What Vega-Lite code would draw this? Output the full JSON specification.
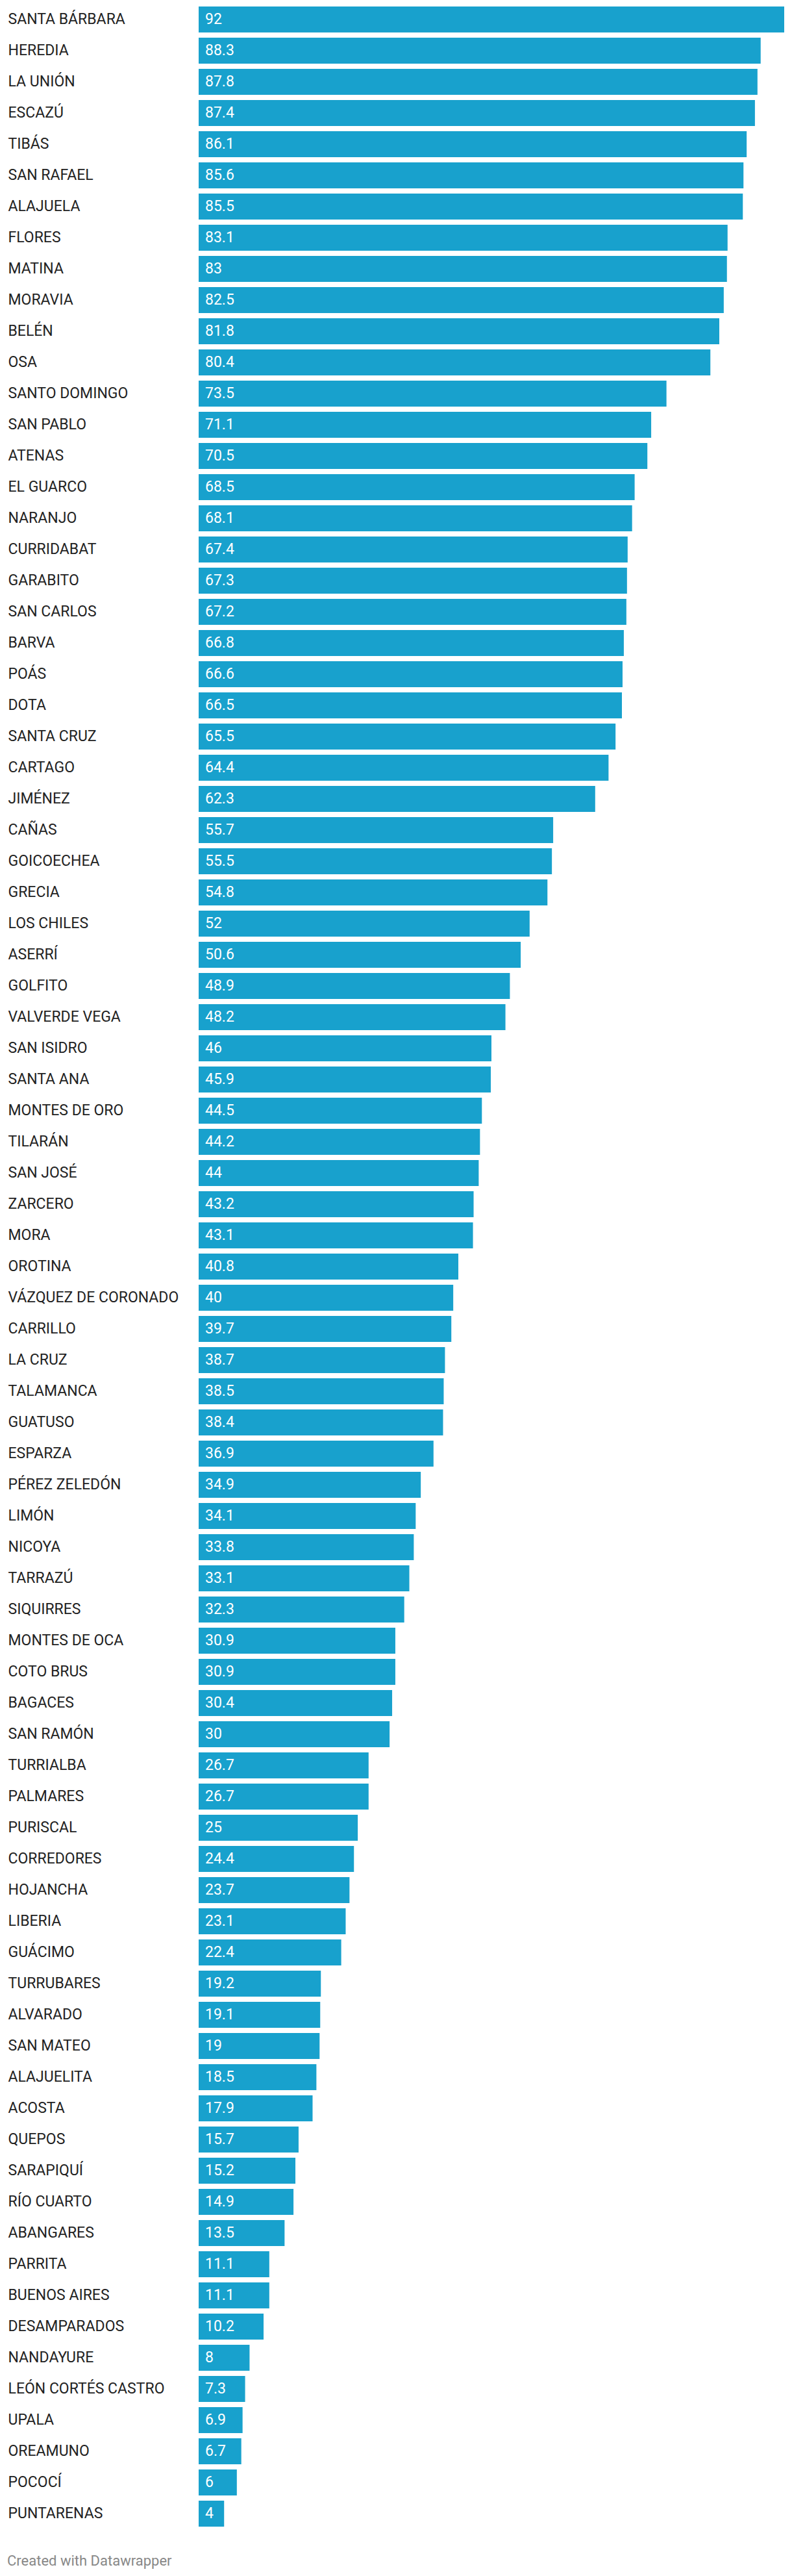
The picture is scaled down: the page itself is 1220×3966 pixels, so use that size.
{
  "$schema": "https://vega.github.io/schema/vega-lite/v6.json",
  "autosize": {"type": "none"},
  "width": 902,
  "height": 3888,
  "padding": {"left": 306, "top": 6, "right": 12, "bottom": 72},
  "background": "white",
  "config": {"view": {"stroke": null}, "font": "Roboto"},
  "title": {
    "text": "Created with Datawrapper",
    "orient": "bottom",
    "anchor": "start",
    "frame": "group",
    "baseline": "alphabetic",
    "offset": 56,
    "dx": -295,
    "font": "Roboto",
    "fontSize": 22,
    "fontWeight": "normal",
    "color": "#888888"
  },
  "data": {
    "values": [
      {"name": "SANTA BÁRBARA", "value": 92},
      {"name": "HEREDIA", "value": 88.3},
      {"name": "LA UNIÓN", "value": 87.8},
      {"name": "ESCAZÚ", "value": 87.4},
      {"name": "TIBÁS", "value": 86.1},
      {"name": "SAN RAFAEL", "value": 85.6},
      {"name": "ALAJUELA", "value": 85.5},
      {"name": "FLORES", "value": 83.1},
      {"name": "MATINA", "value": 83},
      {"name": "MORAVIA", "value": 82.5},
      {"name": "BELÉN", "value": 81.8},
      {"name": "OSA", "value": 80.4},
      {"name": "SANTO DOMINGO", "value": 73.5},
      {"name": "SAN PABLO", "value": 71.1},
      {"name": "ATENAS", "value": 70.5},
      {"name": "EL GUARCO", "value": 68.5},
      {"name": "NARANJO", "value": 68.1},
      {"name": "CURRIDABAT", "value": 67.4},
      {"name": "GARABITO", "value": 67.3},
      {"name": "SAN CARLOS", "value": 67.2},
      {"name": "BARVA", "value": 66.8},
      {"name": "POÁS", "value": 66.6},
      {"name": "DOTA", "value": 66.5},
      {"name": "SANTA CRUZ", "value": 65.5},
      {"name": "CARTAGO", "value": 64.4},
      {"name": "JIMÉNEZ", "value": 62.3},
      {"name": "CAÑAS", "value": 55.7},
      {"name": "GOICOECHEA", "value": 55.5},
      {"name": "GRECIA", "value": 54.8},
      {"name": "LOS CHILES", "value": 52},
      {"name": "ASERRÍ", "value": 50.6},
      {"name": "GOLFITO", "value": 48.9},
      {"name": "VALVERDE VEGA", "value": 48.2},
      {"name": "SAN ISIDRO", "value": 46},
      {"name": "SANTA ANA", "value": 45.9},
      {"name": "MONTES DE ORO", "value": 44.5},
      {"name": "TILARÁN", "value": 44.2},
      {"name": "SAN JOSÉ", "value": 44},
      {"name": "ZARCERO", "value": 43.2},
      {"name": "MORA", "value": 43.1},
      {"name": "OROTINA", "value": 40.8},
      {"name": "VÁZQUEZ DE CORONADO", "value": 40},
      {"name": "CARRILLO", "value": 39.7},
      {"name": "LA CRUZ", "value": 38.7},
      {"name": "TALAMANCA", "value": 38.5},
      {"name": "GUATUSO", "value": 38.4},
      {"name": "ESPARZA", "value": 36.9},
      {"name": "PÉREZ ZELEDÓN", "value": 34.9},
      {"name": "LIMÓN", "value": 34.1},
      {"name": "NICOYA", "value": 33.8},
      {"name": "TARRAZÚ", "value": 33.1},
      {"name": "SIQUIRRES", "value": 32.3},
      {"name": "MONTES DE OCA", "value": 30.9},
      {"name": "COTO BRUS", "value": 30.9},
      {"name": "BAGACES", "value": 30.4},
      {"name": "SAN RAMÓN", "value": 30},
      {"name": "TURRIALBA", "value": 26.7},
      {"name": "PALMARES", "value": 26.7},
      {"name": "PURISCAL", "value": 25},
      {"name": "CORREDORES", "value": 24.4},
      {"name": "HOJANCHA", "value": 23.7},
      {"name": "LIBERIA", "value": 23.1},
      {"name": "GUÁCIMO", "value": 22.4},
      {"name": "TURRUBARES", "value": 19.2},
      {"name": "ALVARADO", "value": 19.1},
      {"name": "SAN MATEO", "value": 19},
      {"name": "ALAJUELITA", "value": 18.5},
      {"name": "ACOSTA", "value": 17.9},
      {"name": "QUEPOS", "value": 15.7},
      {"name": "SARAPIQUÍ", "value": 15.2},
      {"name": "RÍO CUARTO", "value": 14.9},
      {"name": "ABANGARES", "value": 13.5},
      {"name": "PARRITA", "value": 11.1},
      {"name": "BUENOS AIRES", "value": 11.1},
      {"name": "DESAMPARADOS", "value": 10.2},
      {"name": "NANDAYURE", "value": 8},
      {"name": "LEÓN CORTÉS CASTRO", "value": 7.3},
      {"name": "UPALA", "value": 6.9},
      {"name": "OREAMUNO", "value": 6.7},
      {"name": "POCOCÍ", "value": 6},
      {"name": "PUNTARENAS", "value": 4}
    ]
  },
  "encoding": {
    "y": {
      "field": "name",
      "type": "nominal",
      "sort": null,
      "scale": {"paddingInner": 0.16667, "paddingOuter": 0.08333},
      "axis": {
        "title": null,
        "domain": false,
        "ticks": false,
        "grid": false,
        "labelAlign": "left",
        "labelBaseline": "middle",
        "labelPadding": 294,
        "labelFont": "Roboto",
        "labelFontSize": 23,
        "labelColor": "#222222",
        "labelLimit": 0
      }
    }
  },
  "layer": [
    {
      "mark": {"type": "bar", "color": "#18a1cd"},
      "encoding": {
        "x": {
          "field": "value",
          "type": "quantitative",
          "scale": {"domain": [0, 92], "nice": false, "zero": true},
          "axis": null
        }
      }
    },
    {
      "mark": {
        "type": "text",
        "align": "left",
        "baseline": "middle",
        "dx": 10,
        "font": "Roboto",
        "fontSize": 23,
        "color": "#ffffff"
      },
      "encoding": {
        "x": {"datum": 0, "type": "quantitative"},
        "text": {"field": "value", "type": "quantitative", "format": ".3~r"}
      }
    }
  ]
}
